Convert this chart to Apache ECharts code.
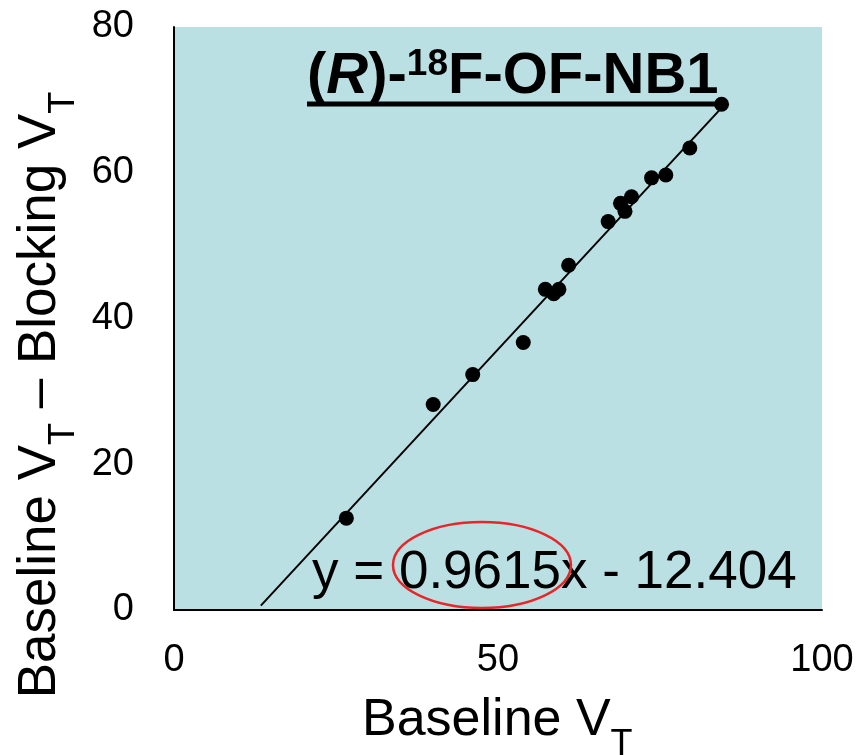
<!DOCTYPE html>
<html>
<head>
<meta charset="utf-8">
<script src="https://cdn.jsdelivr.net/npm/echarts@6/dist/echarts.min.js"></script>
<style>
html,body{margin:0;padding:0;background:#fff;}
#chart{width:858px;height:755px;}
</style>
</head>
<body>
<div id="chart"></div>
<script>
// Data
var baselineVT = [26.6, 40.0, 46.1, 53.9, 57.3, 58.6, 59.4, 60.9, 67.0, 68.9, 69.6, 70.6, 73.7, 75.9, 79.6, 84.5];
var differenceVT = [12.6, 28.2, 32.3, 36.7, 44.0, 43.4, 44.0, 47.3, 53.3, 55.8, 54.7, 56.7, 59.3, 59.7, 63.4, 69.4];
// Trendline endpoints as drawn in the reference
var fitX = [13.4, 84.6];
var fitY = [0.6, 69.0];
var xTicks = [0, 50, 100];
var yTicks = [0, 20, 40, 60, 80];
var equationText = 'y = 0.9615x - 12.404';

var FONT = "'Liberation Sans', Arial, Helvetica, sans-serif";

var scatterData = baselineVT.map(function (v, i) { return [v, differenceVT[i]]; });
var fitData = fitX.map(function (v, i) { return [v, fitY[i]]; });

var chart = echarts.init(document.getElementById('chart'), null, {renderer: 'canvas'});
chart.setOption({
  backgroundColor: '#ffffff',
  animation: false,
  grid: {
    left: 174, right: 36, top: 27, bottom: 145,
    show: true, backgroundColor: '#BBE0E3', borderWidth: 0
  },
  xAxis: {
    type: 'value',
    min: xTicks[0], max: xTicks[xTicks.length - 1], interval: 50,
    axisLine: {show: true, onZero: false, lineStyle: {color: '#000', width: 2}},
    axisTick: {show: false},
    splitLine: {show: false},
    axisLabel: {color: '#000', fontSize: 38, fontFamily: FONT, margin: 32}
  },
  yAxis: {
    type: 'value',
    min: yTicks[0], max: yTicks[yTicks.length - 1], interval: 20,
    axisLine: {show: true, onZero: false, lineStyle: {color: '#000', width: 2}},
    axisTick: {show: false},
    splitLine: {show: false},
    axisLabel: {color: '#000', fontSize: 38, fontFamily: FONT, margin: 40}
  },
  series: [
    {
      type: 'line',
      data: fitData,
      showSymbol: false,
      lineStyle: {color: '#000', width: 2},
      silent: true,
      z: 2
    },
    {
      type: 'scatter',
      data: scatterData,
      symbol: 'circle',
      symbolSize: 15,
      itemStyle: {color: '#000', opacity: 1},
      z: 3
    }
  ],
  graphic: [
    {
      type: 'text',
      left: 307, top: 46,
      style: {
        text: '{b|(}{bi|R}{b|)-}{sup|18}{b|F-OF-NB1}',
        fill: '#000',
        rich: {
          b: {fontSize: 58, fontWeight: 'bold', fontFamily: FONT, lineHeight: 62, fill: '#000'},
          bi: {fontSize: 58, fontWeight: 'bold', fontStyle: 'italic', fontFamily: FONT, lineHeight: 62, fill: '#000'},
          sup: {fontSize: 37, fontWeight: 'bold', fontFamily: FONT, lineHeight: 36, verticalAlign: 'top', fill: '#000'}
        }
      },
      z: 10
    },
    {
      type: 'line',
      shape: {x1: 307, y1: 104, x2: 722, y2: 104},
      style: {stroke: '#000', lineWidth: 5},
      z: 10
    },
    {
      type: 'text',
      left: 312, top: 547,
      style: {
        text: equationText,
        fontSize: 53, fontFamily: FONT, fill: '#000'
      },
      z: 10
    },
    {
      type: 'ellipse',
      shape: {cx: 482, cy: 565, rx: 89, ry: 43},
      style: {stroke: '#E8262A', fill: 'none', lineWidth: 2.5},
      z: 11
    },
    {
      type: 'text',
      left: 362, top: 695,
      style: {
        text: '{m|Baseline V}{s|T}',
        rich: {
          m: {fontSize: 52, fontFamily: FONT, lineHeight: 84, fill: '#000'},
          s: {fontSize: 36, fontFamily: FONT, lineHeight: 36, verticalAlign: 'bottom', fill: '#000'}
        }
      },
      z: 10
    },
    {
      type: 'text',
      x: 40, y: 395,
      rotation: Math.PI / 2,
      style: {
        text: '{m|Baseline V}{s|T}{m| \u2013 Blocking V}{s|T}',
        align: 'center', verticalAlign: 'middle',
        rich: {
          m: {fontSize: 53, fontFamily: FONT, lineHeight: 84, fill: '#000'},
          s: {fontSize: 36, fontFamily: FONT, lineHeight: 36, verticalAlign: 'bottom', fill: '#000'}
        }
      },
      z: 10
    }
  ]
});
</script>
</body>
</html>
